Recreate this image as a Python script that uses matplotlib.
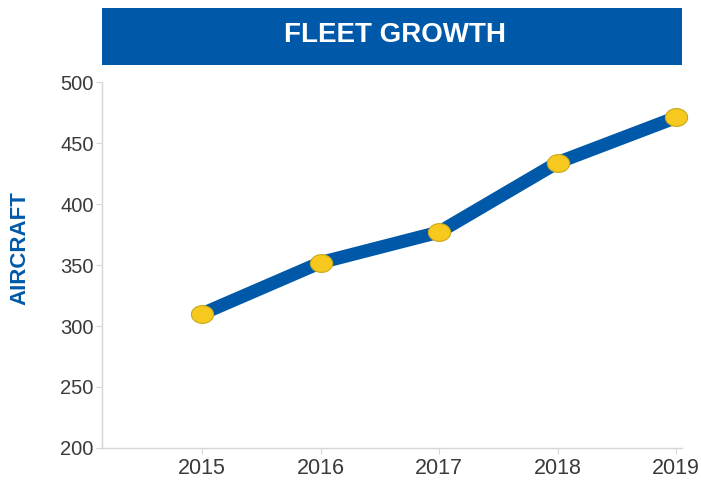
import matplotlib
matplotlib.use("Agg")
import matplotlib.pyplot as plt
from matplotlib.path import Path
from matplotlib.patches import Rectangle
import numpy as np

years = [2015, 2016, 2017, 2018, 2019]
aircraft = [310, 352, 377, 434, 471]
y_ticks = [200, 250, 300, 350, 400, 450, 500]

BLUE = "#0059A8"
YELLOW = "#F7C81E"
GREY_TEXT = "#3a3a3a"
GREY_AXIS = "#d6d6d6"

plt.rcParams["font.family"] = ["Liberation Sans", "DejaVu Sans"]

fig = plt.figure(figsize=(7.01, 4.80), dpi=100)
ax = fig.add_axes([0.1455, 0.0667, 0.973 - 0.1455, 0.829 - 0.0667])

# slightly wide oval marker
t = np.linspace(0, 2 * np.pi, 64)
oval = Path(np.column_stack([1.25 * np.cos(t), np.sin(t)]), closed=True)

ax.plot(years, aircraft, color=BLUE, linewidth=9.5, solid_capstyle="butt",
        solid_joinstyle="round", zorder=3, clip_on=False)
ax.plot(years, aircraft, linestyle="none", marker=oval, markersize=16,
        markerfacecolor=YELLOW, markeredgecolor="#C9A81A", markeredgewidth=0.8,
        zorder=4, clip_on=False)

ax.set_xlim(2014.156, 2019.05)
ax.set_ylim(200, 500)
ax.set_xticks(years)
ax.set_xticklabels([str(y) for y in years])
ax.set_yticks(y_ticks)

for s in ["top", "right"]:
    ax.spines[s].set_visible(False)
for s in ["left", "bottom"]:
    ax.spines[s].set_color(GREY_AXIS)
    ax.spines[s].set_linewidth(1.0)

ax.tick_params(axis="y", colors=GREY_AXIS, labelcolor=GREY_TEXT, labelsize=14.5,
               length=4, width=0.8, pad=2)
ax.tick_params(axis="x", colors=GREY_AXIS, labelcolor=GREY_TEXT, labelsize=15.5,
               length=4, width=0.8, pad=3)

fig.text(20 / 701, 1 - 248 / 480, "AIRCRAFT", color=BLUE, fontsize=16,
         fontweight="bold", rotation=90, ha="center", va="center")

# title banner
banner = Rectangle((102 / 701, 1 - 65 / 480), (682 - 102) / 701, (65 - 8) / 480,
                   transform=fig.transFigure, facecolor=BLUE, edgecolor="none")
fig.patches.append(banner)
fig.text(395 / 701, 1 - 35 / 480, "FLEET GROWTH", color="white", fontsize=20,
         fontweight="bold", ha="center", va="center")

fig.savefig("out.png", dpi=100, facecolor="white")
